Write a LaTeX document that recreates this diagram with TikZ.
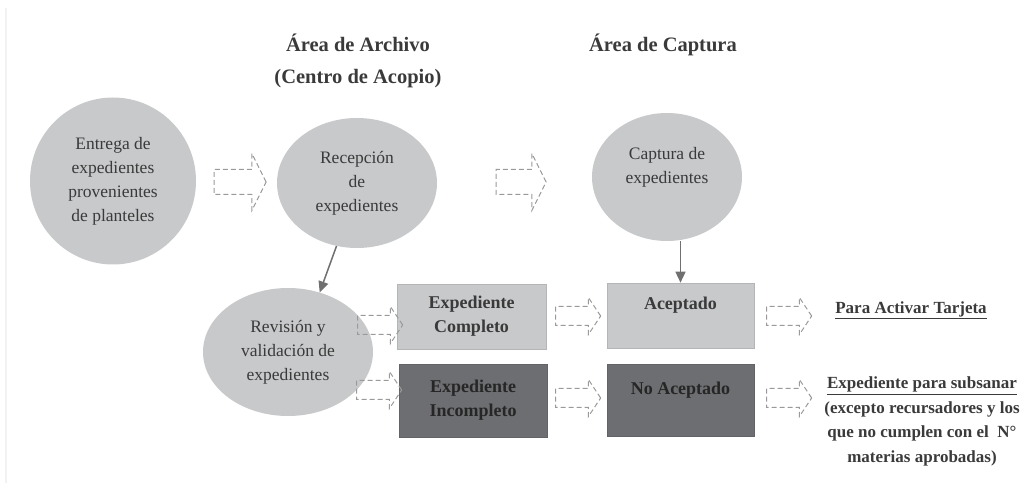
\documentclass[tikz,border=0pt]{standalone}
\usepackage{fontspec}
\setmainfont{Liberation Serif}
\usetikzlibrary{shapes.geometric,shapes.arrows,arrows.meta}
\definecolor{lightfill}{HTML}{C8C9CB}
\definecolor{darkfill}{HTML}{6D6E71}
\definecolor{inkcol}{HTML}{3A3A3A}
\definecolor{dashcol}{HTML}{9A9A9A}
\definecolor{linecol}{HTML}{707070}
\tikzset{
  bubble/.style={ellipse, fill=lightfill, text=inkcol, align=center, inner sep=0pt,
    font=\fontsize{17.5}{24}\selectfont},
  lightbox/.style={rectangle, fill=lightfill, draw=lightfill!90!black, line width=0.6pt,
    text=inkcol, align=center, inner sep=0pt, font=\bfseries\fontsize{18}{24}\selectfont},
  darkbox/.style={lightbox, fill=darkfill, draw=darkfill!90!black, text=black!85},
  title/.style={text=inkcol, align=center, font=\bfseries\fontsize{20.5}{32}\selectfont},
  note/.style={text=inkcol, align=center, font=\bfseries\fontsize{17}{24.5}\selectfont},
  bigarrow/.style={single arrow, draw=dashcol, dashed, dash pattern=on 5pt off 3pt,
    line width=1pt, inner xsep=0pt, inner ysep=12pt, minimum height=52pt,
    single arrow head extend=16pt, single arrow tip angle=127},
  smallarrow/.style={bigarrow, inner ysep=9pt, minimum height=45pt,
    single arrow head extend=9pt, single arrow tip angle=113},
  conn/.style={draw=linecol, line width=1.5pt, -{Triangle[width=10pt,length=11pt]}}
}
\begin{document}
\begin{tikzpicture}[x=1pt,y=-1pt]
  \useasboundingbox (0,0) rectangle (1029,486);
  \draw[black!5, line width=2pt] (6,8) -- (6,483);
  % titles
  \node[title] (tarch) at (358,61) {Área de Archivo\\(Centro de Acopio)};
  \node[title] (tcapt) at (663,45) {Área de Captura};
  % circles
  \node[bubble, minimum width=166pt, minimum height=167pt] (entrega) at (113,181)
    {Entrega de\\expedientes\\provenientes\\de planteles};
  \node[bubble, minimum width=160pt, minimum height=130pt] (recep) at (357,183)
    {Recepción\\de\\expedientes};
  \node[bubble, minimum width=150pt, minimum height=128pt] (capt) at (667,177)
    {Captura de\\expedientes\\~};
  \node[bubble, minimum width=170pt, minimum height=128pt] (rev) at (288,352)
    {Revisión y\\validación de\\expedientes};
  % boxes
  \node[lightbox, minimum width=149pt, minimum height=65pt] (compl) at (471.5,316.5)
    {Expediente\\Completo};
  \node[darkbox, minimum width=148pt, minimum height=73pt] (incompl) at (473,400.5)
    {Expediente\\Incompleto};
  \node[lightbox, minimum width=147pt, minimum height=65pt] (acep) at (680.5,315.5)
    {Aceptado\\~};
  \node[darkbox, minimum width=147pt, minimum height=72pt] (noacep) at (680.5,400)
    {No Aceptado\hspace{16pt}\\~};
  % results
  \node[note] (tarjeta) at (911,310) {\underline{Para Activar Tarjeta}};
  \node[note] (subsanar) at (922,421.5)
    {\underline{Expediente para subsanar}\\(excepto recursadores y los\\que no cumplen con el~~N°\\materias aprobadas)};
  % dashed block arrows
  \node[bigarrow] (a1) at (237,182) {};
  \node[bigarrow, minimum height=50pt] (a2) at (518,182) {};
  \node[smallarrow] (a3) at (377,325) {};
  \node[smallarrow] (a4) at (376,390) {};
  \node[smallarrow] (a5) at (575,316) {};
  \node[smallarrow] (a6) at (575,398) {};
  \node[smallarrow] (a7) at (786,316) {};
  \node[smallarrow] (a8) at (786,398) {};
  % solid connectors
  \draw[conn] (recep.252) -- (rev.62);
  \draw[conn] (acep.north |- capt.south) -- (acep.north);
\end{tikzpicture}
\end{document}
